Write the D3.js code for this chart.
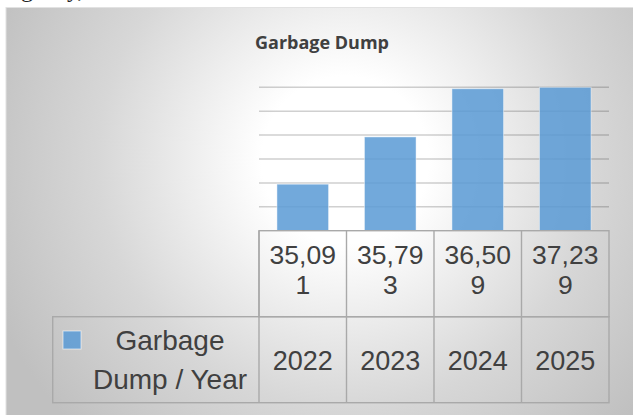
<!DOCTYPE html>
<html>
    <head>
        <title>Garbage Dump</title>
        <meta charset="UTF-8">
        <script type="text/javascript" src="https://cdn.jsdelivr.net/npm/d3@7"></script>
        <style>
            body { margin: 0; background: #fff; }
            svg { display: block; }
        </style>
    </head>
    <body>
        <script type="text/javascript">
            var w = 633, h = 415;

            // data
            var years = ["2022", "2023", "2024", "2025"];
            var values = [35091, 35793, 36509, 37239];
            var seriesName = ["Garbage", "Dump / Year"];
            var title = "Garbage Dump";

            // value axis (no labels shown, only gridlines)
            var yMin = 34400, yMax = 36530, yStep = 355;

            var plotLeft = 259, plotRight = 609, plotTop = 87.3, plotBottom = 230.7;
            var rowMid = 316.7, rowBottom = 402.7, headLeft = 52.7;
            var txt = "#404040", border = "#a9a9a9";
            var tableFont = "Liberation Sans";

            var svg = d3.select("body").append("svg")
                    .attr("width", w)
                    .attr("height", h);

            var grad = svg.append("defs").append("radialGradient")
                    .attr("id", "bg")
                    .attr("gradientUnits", "userSpaceOnUse")
                    .attr("cx", 345).attr("cy", 160).attr("r", 380);
            grad.append("stop").attr("offset", "0").attr("stop-color", "#ffffff");
            grad.append("stop").attr("offset", "0.22").attr("stop-color", "#ffffff");
            grad.append("stop").attr("offset", "0.65").attr("stop-color", "#d7d7d7");
            grad.append("stop").attr("offset", "1").attr("stop-color", "#c0c0c0");

            // bits of the text line above the chart
            svg.append("text")
                    .attr("x", 21).attr("y", -3)
                    .style("font-family", "Liberation Serif")
                    .style("font-size", "24px")
                    .style("fill", "#222")
                    .text("g");
            svg.append("text")
                    .attr("x", 67).attr("y", -3)
                    .style("font-family", "Liberation Serif")
                    .style("font-size", "24px")
                    .style("fill", "#222")
                    .text("y,");

            svg.append("rect")
                    .attr("x", 6).attr("y", 7.5)
                    .attr("width", 660).attr("height", 430)
                    .style("fill", "url(#bg)")
                    .style("stroke", "#e2e2e2")
                    .style("stroke-width", 1);

            svg.append("text")
                    .attr("x", 322).attr("y", 49)
                    .attr("text-anchor", "middle")
                    .style("font-family", "Open Sans")
                    .style("font-weight", "bold")
                    .style("font-size", "18px")
                    .style("fill", txt)
                    .text(title);

            var x = d3.scaleBand()
                    .domain(years)
                    .range([plotLeft, plotRight])
                    .paddingInner(0.41)
                    .paddingOuter(0.205);

            var col = d3.scaleBand()
                    .domain(years)
                    .range([plotLeft, plotRight]);

            var y = d3.scaleLinear()
                    .domain([yMin, yMax])
                    .range([plotBottom, plotTop])
                    .clamp(true);

            var gridVals = d3.range(yMin + yStep, yMax + 1, yStep);

            svg.selectAll("line.grid")
                    .data(gridVals)
                    .enter()
                    .append("line")
                    .attr("class", "grid")
                    .attr("x1", plotLeft)
                    .attr("x2", plotRight)
                    .attr("y1", function(d) { return y(d); })
                    .attr("y2", function(d) { return y(d); })
                    .style("stroke", "rgba(40,40,40,0.22)")
                    .style("stroke-width", 1.5);

            svg.selectAll("rect.bar")
                    .data(values)
                    .enter()
                    .append("rect")
                    .attr("class", "bar")
                    .attr("x", function(d, i) { return x(years[i]); })
                    .attr("width", x.bandwidth())
                    .attr("y", function(d) { return y(d); })
                    .attr("height", function(d) { return plotBottom - y(d); })
                    .style("fill", "rgba(91,155,213,0.86)")
                    .style("stroke", "rgba(255,255,255,0.45)")
                    .style("stroke-width", 1);

            // data table
            var tbl = svg.append("g")
                    .style("fill", "none")
                    .style("stroke", border)
                    .style("stroke-width", 1.4);
            tbl.append("rect")
                    .attr("x", plotLeft).attr("y", plotBottom)
                    .attr("width", plotRight - plotLeft)
                    .attr("height", rowMid - plotBottom);
            tbl.append("rect")
                    .attr("x", headLeft).attr("y", rowMid)
                    .attr("width", plotRight - headLeft)
                    .attr("height", rowBottom - rowMid);
            tbl.selectAll("line")
                    .data(years)
                    .enter()
                    .append("line")
                    .attr("x1", function(d) { return col(d); })
                    .attr("x2", function(d) { return col(d); })
                    .attr("y1", plotBottom)
                    .attr("y2", rowBottom);

            // values wrap inside their cells like the original
            var fmt = d3.format(",");
            var vals = svg.selectAll("text.val")
                    .data(values)
                    .enter()
                    .append("text")
                    .attr("class", "val")
                    .attr("y", 264.3)
                    .style("font-size", "26.5px");
            vals.append("tspan")
                    .attr("x", function(d, i) { return col(years[i]) + col.bandwidth() / 2; })
                    .text(function(d) { return fmt(d).slice(0, 5); });
            vals.append("tspan")
                    .attr("x", function(d, i) { return col(years[i]) + col.bandwidth() / 2; })
                    .attr("dy", 30)
                    .text(function(d) { return fmt(d).slice(5); });

            svg.selectAll("text.year")
                    .data(years)
                    .enter()
                    .append("text")
                    .attr("class", "year")
                    .attr("x", function(d) { return col(d) + col.bandwidth() / 2; })
                    .attr("y", 370)
                    .style("font-size", "27px")
                    .text(function(d) { return d; });

            svg.append("rect")
                    .attr("x", 63).attr("y", 331)
                    .attr("width", 18).attr("height", 18)
                    .style("fill", "rgba(91,155,213,0.86)")
                    .style("stroke", "rgba(255,255,255,0.6)")
                    .style("stroke-width", 1);

            svg.append("text")
                    .attr("class", "head")
                    .attr("y", 349.5)
                    .style("font-size", "28px")
                    .selectAll("tspan")
                    .data(seriesName)
                    .enter()
                    .append("tspan")
                    .attr("x", 170)
                    .attr("dy", function(d, i) { return i ? 39 : 0; })
                    .text(function(d) { return d; });

            svg.selectAll("text.val, text.year, text.head")
                    .attr("text-anchor", "middle")
                    .style("font-family", tableFont)
                    .style("fill", txt);
        </script>
    </body>
</html>
